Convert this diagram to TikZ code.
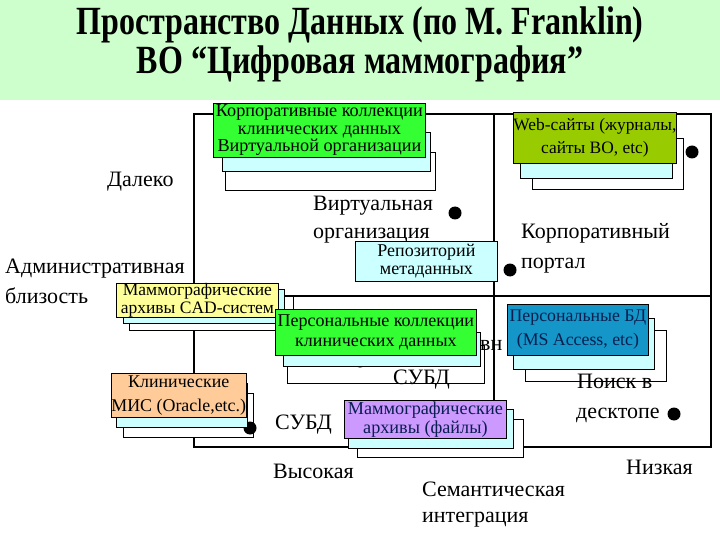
\documentclass[tikz,border=0pt]{standalone}
\usepackage{fontspec}
\setmainfont{Liberation Serif}
\newcommand{\ttlline}[1]{\scalebox{0.80}[1]{\bfseries\fontsize{40}{44}\selectfont #1}}
\definecolor{titlebg}{RGB}{204,255,204}
\definecolor{boxgreen}{RGB}{51,255,51}
\definecolor{boxolive}{RGB}{153,204,0}
\definecolor{boxyellow}{RGB}{255,255,153}
\definecolor{boxcyan}{RGB}{204,255,255}
\definecolor{boxblue}{RGB}{20,150,200}
\definecolor{boxpeach}{RGB}{255,204,153}
\definecolor{boxlav}{RGB}{204,153,255}
\definecolor{navytext}{RGB}{10,30,80}
\begin{document}
\begin{tikzpicture}[x=1pt,y=-1pt,
  gridline/.style={line width=2pt,black},
  shadowwhite/.style={draw=black,line width=0.8pt,fill=white},
  shadowcyan/.style={draw=black,line width=0.8pt,fill=boxcyan},
  mainbox/.style={draw=black,line width=0.8pt,inner sep=0pt,align=center,
     font=\fontsize{18}{19}\selectfont},
  lbl/.style={anchor=base west,inner sep=0pt,font=\fontsize{22}{26}\selectfont},
  dotn/.style={circle,fill=black,inner sep=0pt,minimum size=13pt},
  titletext/.style={inner sep=0pt}]
\useasboundingbox (0,0) rectangle (720,540);
\fill[white] (0,0) rectangle (720,540);
\fill[titlebg] (0,0) rectangle (720,100);
\node[titletext] (t1) at (360,25) {\ttlline{Пространство Данных (по M. Franklin)}};
\node[titletext] (t2) at (360,64) {\ttlline{ВО “Цифровая маммография”}};

% grid
\draw[gridline] (194,114) rectangle (711,447);
\draw[gridline] (494,114) -- (494,447);
\draw[gridline] (194,296) -- (711,296);

% white shadows
\draw[shadowwhite] (225,152) rectangle (435,190);
\draw[shadowwhite] (532,138) rectangle (683,189);
\draw[shadowwhite] (129,296) rectangle (293,330);
\draw[shadowwhite] (287,345) rectangle (484,383);
\draw[shadowwhite] (525,330) rectangle (666,381);
\draw[shadowwhite] (123,393) rectangle (253,437);
\draw[shadowwhite] (357,419) rectangle (523,457);

% labels
\node[lbl] (dal) at (107,187) {Далеко};
\node[lbl] (adm1) at (5,273) {Административная};
\node[lbl] (adm2) at (5,303) {близость};
\node[lbl] (vo1) at (313,211) {Виртуальная};
\node[lbl] (vo2) at (313,239) {организация};
\node[lbl] (kp1) at (521,238) {Корпоративный};
\node[lbl] (kp2) at (521,268) {портал};
\node[lbl] (subd1) at (275,429) {СУБД};
\node[lbl] (subd2) at (393,384) {СУБД};
\node[lbl] (vn) at (480,350) {вн};
\node[lbl] (pd1) at (577,388) {Поиск в};
\node[lbl] (pd2) at (576,418) {десктопе};
\node[lbl] (hi) at (273,478) {Высокая};
\node[lbl] (lo) at (626,474) {Низкая};
\node[lbl] (sem1) at (422,496) {Семантическая};
\node[lbl] (sem2) at (422,522) {интеграция};

% dots
\node[dotn] (d1) at (455,213) {};
\node[dotn] (d2) at (510,270) {};
\node[dotn] (d3) at (692,152) {};
\node[dotn] (d4) at (250,428) {};
\node[dotn] (d5) at (360,361) {};
\node[dotn] (d6) at (674,414) {};

% cyan shadows
\draw[shadowcyan] (222,132) rectangle (430,171);
\draw[shadowcyan] (520,127) rectangle (672,178);
\draw[shadowcyan] (123,289) rectangle (284,323);
\draw[shadowcyan] (283,332) rectangle (480,366);
\draw[shadowcyan] (513,318) rectangle (654,369);
\draw[shadowcyan] (116,383) rectangle (247,427);
\draw[shadowcyan] (348,409) rectangle (513,448);

% main boxes
\node[mainbox,fill=boxgreen,minimum width=212pt,minimum height=54pt,anchor=north west,
  font=\fontsize{18.2}{17.5}\selectfont] (b1) at (213,103)
  {Корпоративные коллекции\\клинических данных\\Виртуальной организации};
\node[mainbox,fill=boxolive,minimum width=152pt,minimum height=51pt,anchor=north west,
  font=\fontsize{17.4}{23}\selectfont] (b2) at (513,112)
  {Web-сайты (журналы,\\сайты ВО, etc)};
\node[mainbox,fill=boxyellow,minimum width=162pt,minimum height=33pt,anchor=north west,
  font=\fontsize{17.5}{18}\selectfont] (b3) at (116,283)
  {Маммографические\\архивы CAD-систем};
\node[mainbox,fill=boxcyan,minimum width=142pt,minimum height=40pt,anchor=north west,
  font=\fontsize{18}{18}\selectfont] (b4) at (355,241)
  {Репозиторий\\метаданных};
\node[mainbox,fill=boxgreen,minimum width=201pt,minimum height=46pt,anchor=north west,
  font=\fontsize{18}{20}\selectfont] (b5) at (275,309)
  {Персональные коллекции\\клинических данных};
\node[mainbox,fill=boxblue,text=navytext,minimum width=141pt,minimum height=51pt,anchor=north west,
  font=\fontsize{17.8}{24}\selectfont] (b6) at (507,304)
  {Персональные БД\\(MS Access, etc)};
\node[mainbox,fill=boxpeach,minimum width=131pt,minimum height=44pt,anchor=north west,
  font=\fontsize{17.9}{24}\selectfont] (b7) at (111,373)
  {Клинические\\МИС (Oracle,etc.)};
\node[mainbox,fill=boxlav,text=navytext,minimum width=162pt,minimum height=38pt,anchor=north west,
  font=\fontsize{18.2}{18.5}\selectfont] (b8) at (344,400)
  {Маммографические\\архивы (файлы)};
\end{tikzpicture}
\end{document}
